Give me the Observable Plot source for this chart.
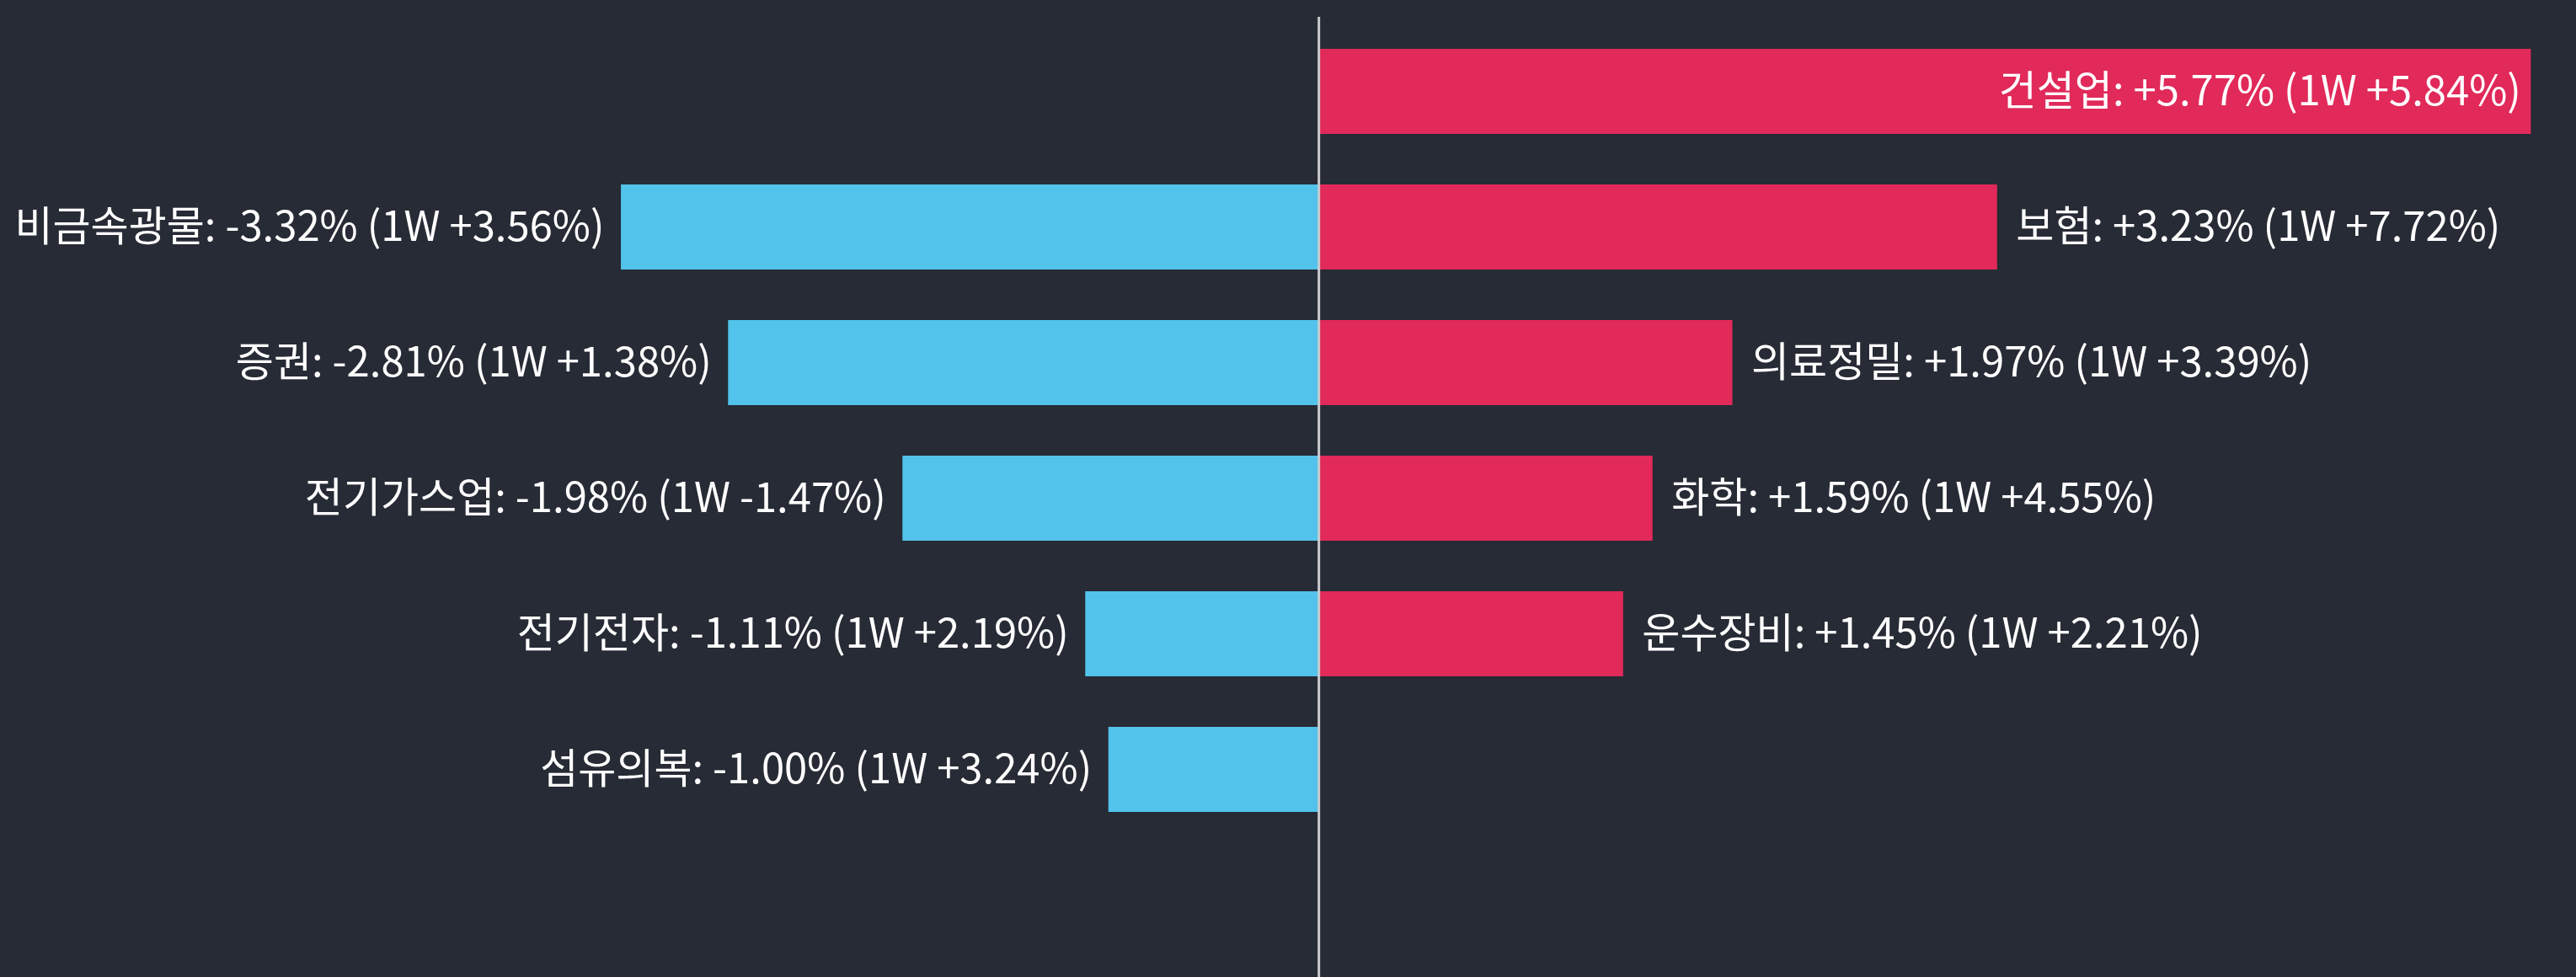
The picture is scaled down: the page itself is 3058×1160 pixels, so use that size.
<!DOCTYPE html>
<html>
<head>
<meta charset="utf-8">
<script src="https://cdn.jsdelivr.net/npm/d3@7"></script>
<script src="https://cdn.jsdelivr.net/npm/@observablehq/plot@0.6"></script>
<style>
  html, body { margin: 0; padding: 0; background: #262b35; }
  #chart svg { display: block; }
</style>
</head>
<body>
<div id="chart"></div>
<script>
// Top gainers (rows 1..5) and top losers (rows 2..6) by daily sector return
const gainers     = ["건설업", "보험", "의료정밀", "화학", "운수장비"];
const gainerDay   = [5.77, 3.23, 1.97, 1.59, 1.45];
const gainerWeek  = [5.84, 7.72, 3.39, 4.55, 2.21];
const losers      = ["비금속광물", "증권", "전기가스업", "전기전자", "섬유의복"];
const loserDay    = [-3.32, -2.81, -1.98, -1.11, -1.00];
const loserWeek   = [3.56, 1.38, -1.47, 2.19, 3.24];
const rows        = [1, 2, 3, 4, 5, 6];

const fmt = v => (v >= 0 ? "+" : "-") + Math.abs(v).toFixed(2) + "%";

const data = [
  ...gainers.map((name, i) => ({name, day: gainerDay[i], week: gainerWeek[i], row: i + 1})),
  ...losers.map((name, i) => ({name, day: loserDay[i], week: loserWeek[i], row: i + 2}))
].map(d => ({...d, label: `${d.name}: ${fmt(d.day)} (1W ${fmt(d.week)})`}));

const maxDay = d3.max(data, d => d.day);
const W = 3058, H = 1160;
const font = "'Noto Sans CJK KR', 'Noto Sans', sans-serif";
const FS = 49;

const chart = Plot.plot({
  width: W,
  height: H,
  marginTop: 26,
  marginBottom: 164,
  marginLeft: 0,
  marginRight: 0,
  style: {background: "#262b35", color: "#ffffff", fontFamily: font},
  x: {domain: [-6.275, 5.985], axis: null},
  y: {domain: rows, axis: null, paddingInner: 0.375, paddingOuter: 0.1875},
  marks: [
    Plot.barX(data, {
      x: "day", y: "row",
      fill: d => d.day >= 0 ? "#e1295a" : "#52c3eb"
    }),
    Plot.ruleX([0], {stroke: "#c9cbcf", strokeWidth: 3, insetTop: -6, insetBottom: -164}),
    // labels outside the bar end
    Plot.text(data.filter(d => d.day < 0), {
      x: "day", y: "row", text: "label",
      textAnchor: "end", dx: -20, fill: "#ffffff",
      fontSize: FS, fontFamily: font
    }),
    Plot.text(data.filter(d => d.day >= 0 && d.day !== maxDay), {
      x: "day", y: "row", text: "label",
      textAnchor: "start", dx: 22, fill: "#ffffff",
      fontSize: FS, fontFamily: font
    }),
    // the longest bar carries its label inside
    Plot.text(data.filter(d => d.day === maxDay), {
      x: "day", y: "row", text: "label",
      textAnchor: "end", dx: -12, fill: "#ffffff",
      fontSize: FS, fontFamily: font
    })
  ]
});

document.getElementById("chart").appendChild(chart);
</script>
</body>
</html>
